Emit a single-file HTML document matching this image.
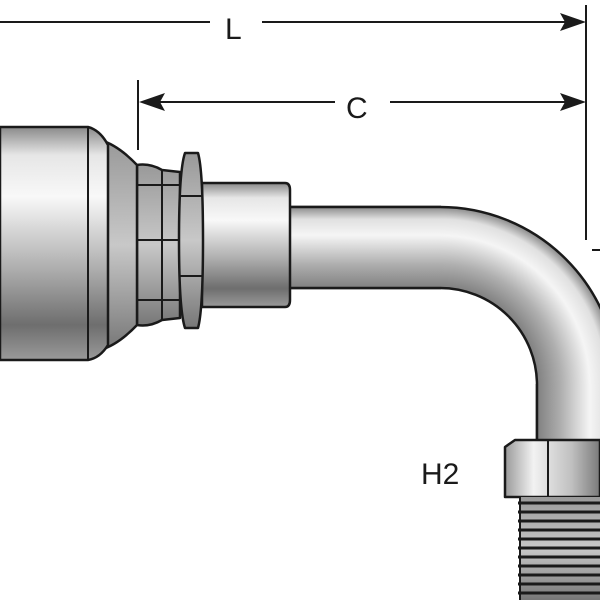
<!DOCTYPE html>
<html><head><style>body{margin:0;background:#fff}svg{display:block}</style></head><body>
<svg width="600" height="600" viewBox="0 0 600 600" xmlns="http://www.w3.org/2000/svg">
<defs>
<linearGradient id="gv" x1="0" y1="0" x2="0" y2="1">
<stop offset="0" stop-color="#8a8a8a"/><stop offset="0.12" stop-color="#e6e6e6"/><stop offset="0.3" stop-color="#f8f8f8"/><stop offset="0.6" stop-color="#b0b0b0"/><stop offset="0.85" stop-color="#6e6e6e"/><stop offset="1" stop-color="#9a9a9a"/></linearGradient>
<linearGradient id="gh" x1="0" y1="0" x2="1" y2="0">
<stop offset="0" stop-color="#9a9a9a"/><stop offset="0.3" stop-color="#f2f2f2"/><stop offset="0.7" stop-color="#c0c0c0"/><stop offset="1" stop-color="#7a7a7a"/></linearGradient>
<radialGradient id="gr" cx="440" cy="385" r="178" gradientUnits="userSpaceOnUse">
<stop offset="0.545" stop-color="#808080"/><stop offset="0.6815" stop-color="#b0b0b0"/><stop offset="0.84" stop-color="#f5f5f5"/><stop offset="0.932" stop-color="#e0e0e0"/><stop offset="1" stop-color="#8a8a8a"/></radialGradient>
<linearGradient id="gt" x1="0" y1="207" x2="0" y2="288" gradientUnits="userSpaceOnUse">
<stop offset="0" stop-color="#8a8a8a"/><stop offset="0.15" stop-color="#e0e0e0"/><stop offset="0.35" stop-color="#f5f5f5"/><stop offset="0.7" stop-color="#b0b0b0"/><stop offset="1" stop-color="#808080"/></linearGradient>
<linearGradient id="gu" x1="618" y1="0" x2="537" y2="0" gradientUnits="userSpaceOnUse">
<stop offset="0" stop-color="#8a8a8a"/><stop offset="0.15" stop-color="#e0e0e0"/><stop offset="0.35" stop-color="#f5f5f5"/><stop offset="0.7" stop-color="#b0b0b0"/><stop offset="1" stop-color="#808080"/></linearGradient>
<linearGradient id="gd" x1="0" y1="0" x2="0" y2="1"><stop offset="0" stop-color="#999"/><stop offset="0.5" stop-color="#c8c8c8"/><stop offset="1" stop-color="#777"/></linearGradient>
</defs>
<g stroke="#1a1a1a" stroke-width="2.5" stroke-linejoin="round">
<!-- tube -->
<path d="M285 207 H440 A178 178 0 0 1 618 385 V445 H537 V385 A97 97 0 0 0 440 288 H285 Z" fill="url(#gr)"/>
<rect x="285" y="208" width="156" height="79" fill="url(#gt)" stroke="none"/>
<path d="M285 207 H441 M285 288 H441" fill="none"/>
<rect x="538" y="384" width="80" height="61" fill="url(#gu)" stroke="none"/>
<path d="M537 384 V445" fill="none"/>
<!-- collar -->
<path d="M202 183 H285 Q290 183 290 190 V300 Q290 307 285 307 H202 Z" fill="url(#gv)"/>
<!-- small segments -->
<path d="M137 165 Q150 163 162 170 L180 172 V318 L162 320 Q150 327 137 325 Z" fill="url(#gd)"/>
<path d="M137 185 H180 M137 240 H180 M137 300 H180 M162 170 V320" fill="none" stroke-width="2"/>
<!-- cone -->
<path d="M100 140 Q118 145 137 165 V325 Q118 345 100 350 Z" fill="url(#gd)"/>
<!-- ferrule -->
<path d="M0 127 H88 Q100 130 108 145 V345 Q100 358 88 360 H0 Z" fill="url(#gv)"/>
<path d="M88 127 V360" fill="none" stroke-width="2"/>
<!-- hex nut -->
<path d="M185 153 H198 Q203 170 203 240 Q203 310 198 328 H185 Q179 310 179 240 Q179 170 185 153 Z" fill="url(#gd)"/>
<path d="M180 196 H202 M180 276 H202" fill="none" stroke-width="2"/>
<!-- bottom hex -->
<path d="M505 447 L515 440 H600 V497 H505 Z" fill="url(#gh)"/>
<path d="M548 440 V497" fill="none" stroke-width="2"/>
<!-- threads -->
<rect x="520" y="497" width="80" height="103" fill="url(#gd)" stroke="none"/>
<g stroke-width="3">
<path d="M518 503 H600 M518 512 H600 M518 521 H600 M518 530 H600 M518 539 H600 M518 548 H600 M518 557 H600 M518 566 H600 M518 575 H600 M518 584 H600 M518 593 H600"/>
</g>
<path d="M520 497 V600" fill="none" stroke-width="2"/>
</g>
<!-- dimensions -->
<g stroke="#1a1a1a" stroke-width="2" fill="none">
<path d="M0 22 H210 M262 22 H575"/>
<path d="M586 5 V240"/>
<path d="M138 80 V150"/>
<path d="M150 102 H335 M390 102 H575"/>
<path d="M592 250 H600"/>
</g>
<g fill="#1a1a1a">
<path d="M586 22 L560 13 L565 22 L560 31 Z"/>
<path d="M586 102 L560 93 L565 102 L560 111 Z"/>
<path d="M139 102 L165 93 L160 102 L165 111 Z"/>
</g>
<g font-family="'Liberation Sans', sans-serif" font-size="30" fill="#1a1a1a">
<text x="225" y="39">L</text>
<text x="346" y="118">C</text>
<text x="421" y="484">H2</text>
</g>
</svg>
</body></html>
